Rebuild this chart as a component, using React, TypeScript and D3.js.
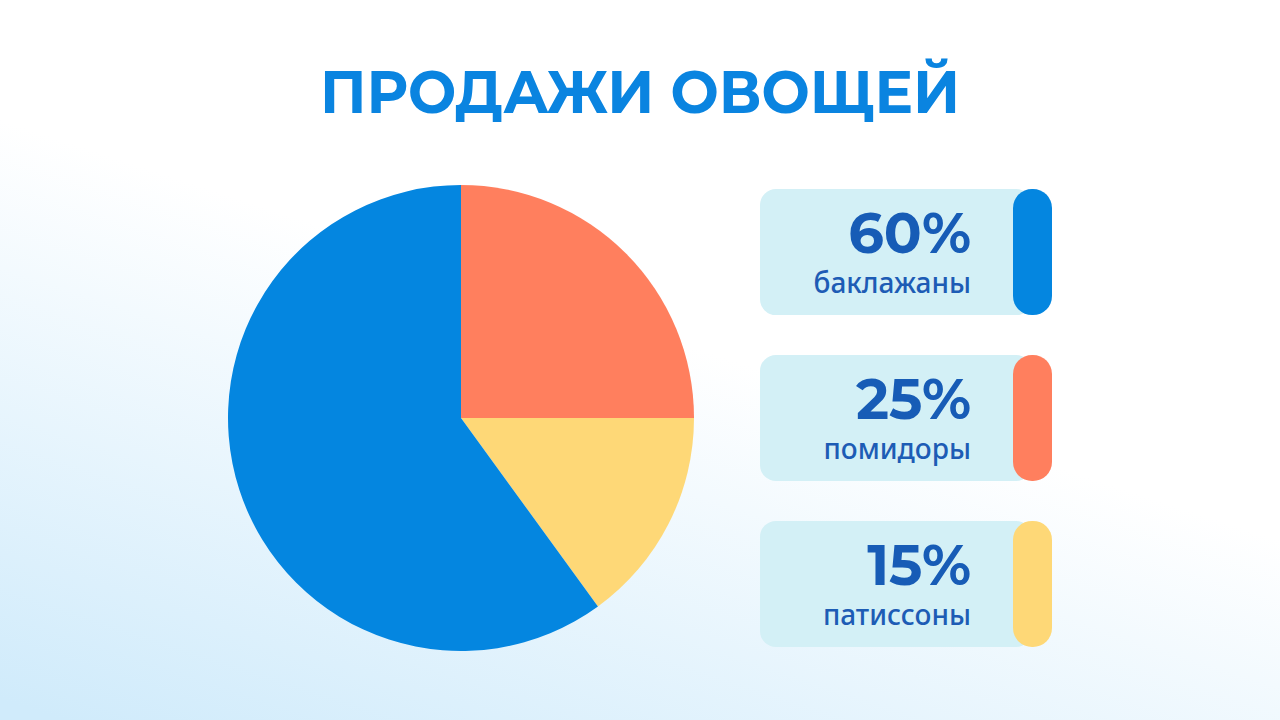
import React, { useRef, useEffect } from "react";
import * as d3 from "d3";

const title = "ПРОДАЖИ ОВОЩЕЙ";
const categories = ["баклажаны", "помидоры", "патиссоны"];
const shares = [60, 25, 15];
const colors = ["#0486e0", "#ff7f5e", "#fed877"];
// order of slices clockwise from 12 o'clock
const drawOrder = [1, 2, 0];

const App = () => {
  const svgRef = useRef<SVGSVGElement>(null);

  useEffect(() => {
    document.body.style.margin = "0";
    if (!svgRef.current) return;
    const svg = d3.select(svgRef.current);
    const width = 1280;
    const height = 720;
    svg.selectAll("*").remove();

    const defs = svg.append("defs");
    const grad = defs
      .append("linearGradient")
      .attr("id", "bg")
      .attr("x1", "0.05")
      .attr("y1", "1")
      .attr("x2", "0.4")
      .attr("y2", "0.4");
    grad.append("stop").attr("offset", "0").attr("stop-color", "#d0ebfb");
    grad.append("stop").attr("offset", "1").attr("stop-color", "#ffffff");

    svg.append("rect").attr("width", width).attr("height", height).attr("fill", "url(#bg)");

    svg
      .append("text")
      .attr("x", 640)
      .attr("y", 113)
      .attr("text-anchor", "middle")
      .attr("font-family", "Montserrat, 'Noto Sans', sans-serif")
      .attr("font-weight", 700)
      .attr("font-size", 60)
      .attr("textLength", 640)
      .attr("lengthAdjust", "spacingAndGlyphs")
      .attr("fill", "#0a84e0")
      .text(title);

    // pie
    const cx = 461;
    const cy = 418;
    const r = 233;
    const items = drawOrder.map((i) => ({ name: categories[i], value: shares[i], color: colors[i] }));
    const pie = d3.pie<any>().sort(null).value((d) => d.value);
    const arc = d3.arc<any>().innerRadius(0).outerRadius(r);
    svg
      .append("g")
      .attr("transform", `translate(${cx},${cy})`)
      .selectAll("path")
      .data(pie(items))
      .join("path")
      .attr("d", arc)
      .attr("fill", (d) => d.data.color);

    // legend cards
    const y = d3.scaleBand().domain(categories).range([189, 647]).paddingInner(0.24);
    const cardX = 760;
    const cardW = 292;
    const g = svg
      .append("g")
      .selectAll("g")
      .data(categories)
      .join("g")
      .attr("transform", (d) => `translate(${cardX},${y(d)})`);
    const h = y.bandwidth();

    g.append("rect")
      .attr("width", cardW - 20)
      .attr("height", h)
      .attr("rx", 16)
      .attr("fill", "#d3f0f6");
    g.append("rect")
      .attr("x", cardW - 39)
      .attr("width", 39)
      .attr("height", h)
      .attr("rx", 19)
      .attr("fill", (d, i) => colors[i]);
    g.append("text")
      .attr("x", 211)
      .attr("y", 64)
      .attr("text-anchor", "end")
      .attr("font-family", "Montserrat, 'Noto Sans', sans-serif")
      .attr("font-weight", 700)
      .attr("font-size", 56)
      .attr("fill", "#175cb6")
      .text((d, i) => `${shares[i]}%`);
    g.append("text")
      .attr("x", 211)
      .attr("y", 104)
      .attr("text-anchor", "end")
      .attr("font-family", "'Noto Sans', sans-serif")
      .attr("font-weight", 500)
      .attr("font-size", 28)
      .attr("fill", "#1d5cb5")
      .text((d) => d);
  }, []);

  return <svg ref={svgRef} width={1280} height={720} style={{ display: "block" }}></svg>;
};

export default App;
